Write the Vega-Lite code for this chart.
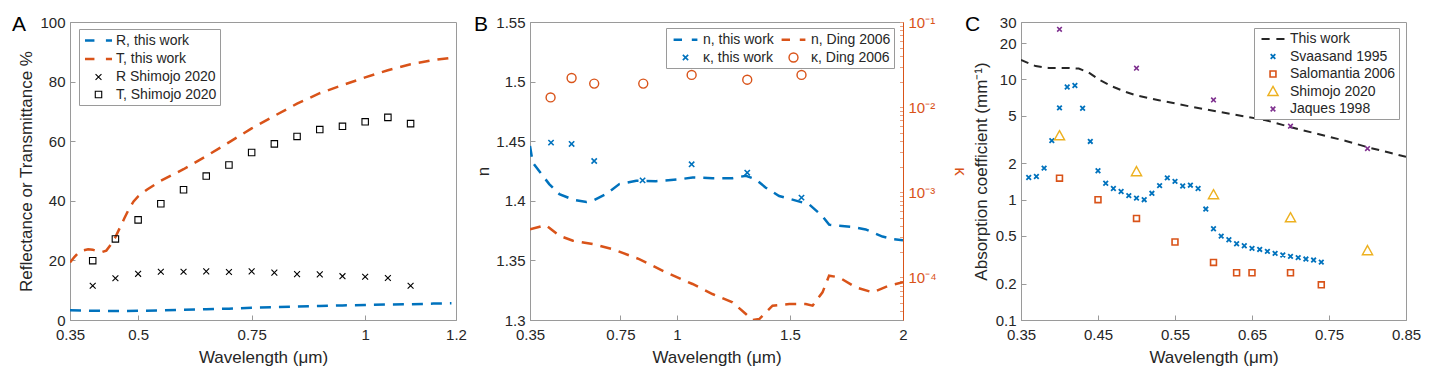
{
"$schema": "https://vega.github.io/schema/vega-lite/v6.json",
"padding": {"left": 11, "top": 13, "right": 5, "bottom": 5},
"background": "white",
"bounds": "flush",
"spacing": 74,
"resolve": {"scale": {"color": "independent", "shape": "independent", "strokeWidth": "independent"}, "legend": {"color": "independent", "shape": "independent", "strokeWidth": "independent"}},
"config": {
  "font": "Liberation Sans",
  "view": {"stroke": "#9a9a9a", "strokeWidth": 1},
  "axis": {"labelFont": "Liberation Sans", "labelFontSize": 15, "labelColor": "#262626", "titleFont": "Liberation Sans", "titleFontSize": 17, "titleFontWeight": "normal", "titleColor": "#262626", "domainColor": "#9a9a9a", "tickColor": "#9a9a9a", "tickSize": -5, "labelPadding": 10, "grid": false, "labelFlush": false, "labelOverlap": false},
  "axisX": {"labelPadding": 12.5},
  "legend": {"orient": "none", "title": null, "strokeColor": "#9a9a9a", "fillColor": "white", "padding": 3, "labelFont": "Liberation Sans", "labelFontSize": 14, "labelColor": "#262626", "symbolSize": 196, "rowPadding": 2.5, "symbolOffset": 8, "labelOffset": 9},
  "title": {"font": "Liberation Sans", "fontSize": 21, "fontWeight": "normal", "anchor": "start", "frame": "group", "baseline": "alphabetic", "offset": 0, "color": "#000"}
},
"hconcat": [
{
  "width": 386, "height": 298,
  "title": {"text": "A", "dx": -58, "dy": 24},
  "layer": [
    {
      "data": {"values": [
        {"series": "R, this work", "wl": 0.35, "v": 3.3}, {"series": "R, this work", "wl": 0.4, "v": 3.1}, {"series": "R, this work", "wl": 0.45, "v": 3.0}, {"series": "R, this work", "wl": 0.5, "v": 3.1}, {"series": "R, this work", "wl": 0.55, "v": 3.2}, {"series": "R, this work", "wl": 0.6, "v": 3.4}, {"series": "R, this work", "wl": 0.65, "v": 3.6}, {"series": "R, this work", "wl": 0.7, "v": 3.8}, {"series": "R, this work", "wl": 0.75, "v": 4.1}, {"series": "R, this work", "wl": 0.8, "v": 4.3}, {"series": "R, this work", "wl": 0.85, "v": 4.5}, {"series": "R, this work", "wl": 0.9, "v": 4.7}, {"series": "R, this work", "wl": 0.95, "v": 4.9}, {"series": "R, this work", "wl": 1.0, "v": 5.0}, {"series": "R, this work", "wl": 1.05, "v": 5.2}, {"series": "R, this work", "wl": 1.1, "v": 5.3}, {"series": "R, this work", "wl": 1.15, "v": 5.5}, {"series": "R, this work", "wl": 1.19, "v": 5.6},
        {"series": "T, this work", "wl": 0.35, "v": 19.3}, {"series": "T, this work", "wl": 0.36, "v": 21.2}, {"series": "T, this work", "wl": 0.37, "v": 22.8}, {"series": "T, this work", "wl": 0.38, "v": 23.4}, {"series": "T, this work", "wl": 0.39, "v": 23.7}, {"series": "T, this work", "wl": 0.4, "v": 23.6}, {"series": "T, this work", "wl": 0.41, "v": 23.1}, {"series": "T, this work", "wl": 0.42, "v": 22.8}, {"series": "T, this work", "wl": 0.43, "v": 23.3}, {"series": "T, this work", "wl": 0.44, "v": 25.3}, {"series": "T, this work", "wl": 0.45, "v": 27.8}, {"series": "T, this work", "wl": 0.46, "v": 31.0}, {"series": "T, this work", "wl": 0.47, "v": 34.2}, {"series": "T, this work", "wl": 0.48, "v": 37.3}, {"series": "T, this work", "wl": 0.49, "v": 39.8}, {"series": "T, this work", "wl": 0.5, "v": 41.5}, {"series": "T, this work", "wl": 0.52, "v": 43.8}, {"series": "T, this work", "wl": 0.55, "v": 46.7}, {"series": "T, this work", "wl": 0.6, "v": 50.6}, {"series": "T, this work", "wl": 0.65, "v": 55.0}, {"series": "T, this work", "wl": 0.7, "v": 59.6}, {"series": "T, this work", "wl": 0.75, "v": 64.3}, {"series": "T, this work", "wl": 0.8, "v": 68.5}, {"series": "T, this work", "wl": 0.85, "v": 72.6}, {"series": "T, this work", "wl": 0.9, "v": 76.1}, {"series": "T, this work", "wl": 0.95, "v": 78.8}, {"series": "T, this work", "wl": 1.0, "v": 81.4}, {"series": "T, this work", "wl": 1.05, "v": 83.8}, {"series": "T, this work", "wl": 1.1, "v": 85.8}, {"series": "T, this work", "wl": 1.15, "v": 87.2}, {"series": "T, this work", "wl": 1.19, "v": 88.0}
      ]},
      "mark": {"type": "line", "strokeWidth": 2.5, "strokeDash": [11, 8], "clip": true},
      "encoding": {
        "x": {"field": "wl", "type": "quantitative", "scale": {"domain": [0.35, 1.2], "nice": false, "zero": false}, "axis": {"values": [0.35, 0.5, 0.75, 1, 1.2], "format": "~g", "title": "Wavelength (μm)", "titleY": 37, "titleBaseline": "middle"}},
        "y": {"field": "v", "type": "quantitative", "scale": {"domain": [0, 100], "nice": false}, "axis": {"values": [0, 20, 40, 60, 80, 100], "title": "Reflectance or Transmittance %", "titleX": -44, "titleBaseline": "middle"}},
        "color": {"field": "series", "type": "nominal", "scale": {"domain": ["R, this work", "T, this work", "R Shimojo 2020", "T, Shimojo 2020"], "range": ["#0072BD", "#D95319", "#000000", "#000000"]}},
        "detail": {"field": "series"}
      }
    },
    {
      "data": {"values": [
        {"series": "R Shimojo 2020", "wl": 0.4, "v": 11.5}, {"series": "R Shimojo 2020", "wl": 0.45, "v": 14.0}, {"series": "R Shimojo 2020", "wl": 0.5, "v": 15.5}, {"series": "R Shimojo 2020", "wl": 0.55, "v": 16.2}, {"series": "R Shimojo 2020", "wl": 0.6, "v": 16.2}, {"series": "R Shimojo 2020", "wl": 0.65, "v": 16.3}, {"series": "R Shimojo 2020", "wl": 0.7, "v": 16.1}, {"series": "R Shimojo 2020", "wl": 0.75, "v": 16.3}, {"series": "R Shimojo 2020", "wl": 0.8, "v": 15.9}, {"series": "R Shimojo 2020", "wl": 0.85, "v": 15.4}, {"series": "R Shimojo 2020", "wl": 0.9, "v": 15.3}, {"series": "R Shimojo 2020", "wl": 0.95, "v": 14.7}, {"series": "R Shimojo 2020", "wl": 1.0, "v": 14.5}, {"series": "R Shimojo 2020", "wl": 1.05, "v": 14.1}, {"series": "R Shimojo 2020", "wl": 1.1, "v": 11.5},
        {"series": "T, Shimojo 2020", "wl": 0.4, "v": 19.9}, {"series": "T, Shimojo 2020", "wl": 0.45, "v": 27.2}, {"series": "T, Shimojo 2020", "wl": 0.5, "v": 33.6}, {"series": "T, Shimojo 2020", "wl": 0.55, "v": 39.0}, {"series": "T, Shimojo 2020", "wl": 0.6, "v": 43.7}, {"series": "T, Shimojo 2020", "wl": 0.65, "v": 48.3}, {"series": "T, Shimojo 2020", "wl": 0.7, "v": 52.0}, {"series": "T, Shimojo 2020", "wl": 0.75, "v": 56.2}, {"series": "T, Shimojo 2020", "wl": 0.8, "v": 59.1}, {"series": "T, Shimojo 2020", "wl": 0.85, "v": 61.6}, {"series": "T, Shimojo 2020", "wl": 0.9, "v": 63.9}, {"series": "T, Shimojo 2020", "wl": 0.95, "v": 65.0}, {"series": "T, Shimojo 2020", "wl": 1.0, "v": 66.5}, {"series": "T, Shimojo 2020", "wl": 1.05, "v": 68.0}, {"series": "T, Shimojo 2020", "wl": 1.1, "v": 65.9}
      ]},
      "mark": {"type": "point", "filled": false, "size": 196, "opacity": 1, "clip": true},
      "encoding": {
        "x": {"field": "wl", "type": "quantitative"},
        "y": {"field": "v", "type": "quantitative"},
        "color": {"field": "series", "type": "nominal", "legend": {"legendX": 9, "legendY": 7}},
        "shape": {"field": "series", "type": "nominal", "scale": {"domain": ["R, this work", "T, this work", "R Shimojo 2020", "T, Shimojo 2020"], "range": ["M-1.93,0H-0.58M1.06,0H1.93", "M-1.93,0H-0.58M1.06,0H1.93", "M-0.42,-0.42L0.42,0.42M-0.42,0.42L0.42,-0.42", "M-0.46,-0.46H0.46V0.46H-0.46Z"]}},
        "strokeWidth": {"field": "series", "type": "nominal", "scale": {"type": "ordinal", "domain": ["R, this work", "T, this work", "R Shimojo 2020", "T, Shimojo 2020"], "range": [2.5, 2.5, 1.1, 1.1]}}
      }
    }
  ]
},
{
  "bounds": "flush",
  "spacing": 118,
  "resolve": {"scale": {"color": "independent", "shape": "independent", "strokeWidth": "independent"}, "legend": {"color": "independent", "shape": "independent", "strokeWidth": "independent"}},
  "hconcat": [
  {
    "width": 373, "height": 298,
    "title": {"text": "B", "dx": -56, "dy": 24},
    "layer": [
      {
        "data": {"values": [
          {"series": "n, this work", "wl": 0.35, "n": 1.446}, {"series": "n, this work", "wl": 0.362, "n": 1.432}, {"series": "n, this work", "wl": 0.435, "n": 1.414}, {"series": "n, this work", "wl": 0.48, "n": 1.4056}, {"series": "n, this work", "wl": 0.54, "n": 1.401}, {"series": "n, this work", "wl": 0.6, "n": 1.399}, {"series": "n, this work", "wl": 0.627, "n": 1.4}, {"series": "n, this work", "wl": 0.686, "n": 1.4056}, {"series": "n, this work", "wl": 0.745, "n": 1.414}, {"series": "n, this work", "wl": 0.82, "n": 1.4168}, {"series": "n, this work", "wl": 0.907, "n": 1.4165}, {"series": "n, this work", "wl": 1.01, "n": 1.418}, {"series": "n, this work", "wl": 1.07, "n": 1.4196}, {"series": "n, this work", "wl": 1.157, "n": 1.419}, {"series": "n, this work", "wl": 1.246, "n": 1.419}, {"series": "n, this work", "wl": 1.305, "n": 1.421}, {"series": "n, this work", "wl": 1.349, "n": 1.418}, {"series": "n, this work", "wl": 1.393, "n": 1.411}, {"series": "n, this work", "wl": 1.452, "n": 1.404}, {"series": "n, this work", "wl": 1.511, "n": 1.401}, {"series": "n, this work", "wl": 1.585, "n": 1.397}, {"series": "n, this work", "wl": 1.644, "n": 1.387}, {"series": "n, this work", "wl": 1.673, "n": 1.38}, {"series": "n, this work", "wl": 1.717, "n": 1.379}, {"series": "n, this work", "wl": 1.776, "n": 1.378}, {"series": "n, this work", "wl": 1.835, "n": 1.376}, {"series": "n, this work", "wl": 1.909, "n": 1.37}, {"series": "n, this work", "wl": 1.953, "n": 1.368}, {"series": "n, this work", "wl": 2.0, "n": 1.367},
          {"series": "n, Ding 2006", "wl": 0.35, "n": 1.376}, {"series": "n, Ding 2006", "wl": 0.42, "n": 1.3796}, {"series": "n, Ding 2006", "wl": 0.48, "n": 1.3707}, {"series": "n, Ding 2006", "wl": 0.54, "n": 1.3665}, {"series": "n, Ding 2006", "wl": 0.627, "n": 1.3637}, {"series": "n, Ding 2006", "wl": 0.715, "n": 1.3595}, {"series": "n, Ding 2006", "wl": 0.833, "n": 1.3511}, {"series": "n, Ding 2006", "wl": 0.951, "n": 1.34}, {"series": "n, Ding 2006", "wl": 1.069, "n": 1.3302}, {"series": "n, Ding 2006", "wl": 1.157, "n": 1.3218}, {"series": "n, Ding 2006", "wl": 1.246, "n": 1.3148}, {"series": "n, Ding 2006", "wl": 1.305, "n": 1.305}, {"series": "n, Ding 2006", "wl": 1.334, "n": 1.3}, {"series": "n, Ding 2006", "wl": 1.364, "n": 1.3008}, {"series": "n, Ding 2006", "wl": 1.423, "n": 1.312}, {"series": "n, Ding 2006", "wl": 1.497, "n": 1.3134}, {"series": "n, Ding 2006", "wl": 1.57, "n": 1.3134}, {"series": "n, Ding 2006", "wl": 1.6, "n": 1.312}, {"series": "n, Ding 2006", "wl": 1.644, "n": 1.3232}, {"series": "n, Ding 2006", "wl": 1.673, "n": 1.3372}, {"series": "n, Ding 2006", "wl": 1.717, "n": 1.3358}, {"series": "n, Ding 2006", "wl": 1.791, "n": 1.3274}, {"series": "n, Ding 2006", "wl": 1.865, "n": 1.3232}, {"series": "n, Ding 2006", "wl": 1.938, "n": 1.3288}, {"series": "n, Ding 2006", "wl": 2.0, "n": 1.3316}
        ]},
        "mark": {"type": "line", "strokeWidth": 2.5, "strokeDash": [11, 8], "clip": true},
        "encoding": {
          "x": {"field": "wl", "type": "quantitative", "scale": {"domain": [0.35, 2], "nice": false, "zero": false}, "axis": {"values": [0.35, 0.75, 1, 1.5, 2], "format": "~g", "title": "Wavelength (μm)", "titleY": 37, "titleBaseline": "middle"}},
          "y": {"field": "n", "type": "quantitative", "scale": {"domain": [1.3, 1.55], "nice": false, "zero": false}, "axis": {"values": [1.3, 1.35, 1.4, 1.45, 1.5, 1.55], "format": "~g", "title": "n", "titleX": -47, "titleBaseline": "middle"}},
          "color": {"field": "series", "type": "nominal", "scale": {"domain": ["n, this work", "κ, this work", "n, Ding 2006", "κ, Ding 2006"], "range": ["#0072BD", "#0072BD", "#D95319", "#D95319"]}},
          "detail": {"field": "series"}
        }
      },
      {
        "data": {"values": [
          {"series": "κ, this work", "wl": 0.443, "kappa": 0.00383}, {"series": "κ, this work", "wl": 0.534, "kappa": 0.0037}, {"series": "κ, this work", "wl": 0.634, "kappa": 0.00233}, {"series": "κ, this work", "wl": 0.848, "kappa": 0.00138}, {"series": "κ, this work", "wl": 1.065, "kappa": 0.00213}, {"series": "κ, this work", "wl": 1.311, "kappa": 0.0017}, {"series": "κ, this work", "wl": 1.551, "kappa": 0.000865},
          {"series": "κ, Ding 2006", "wl": 0.441, "kappa": 0.013}, {"series": "κ, Ding 2006", "wl": 0.534, "kappa": 0.022}, {"series": "κ, Ding 2006", "wl": 0.634, "kappa": 0.0189}, {"series": "κ, Ding 2006", "wl": 0.851, "kappa": 0.0189}, {"series": "κ, Ding 2006", "wl": 1.065, "kappa": 0.0239}, {"series": "κ, Ding 2006", "wl": 1.311, "kappa": 0.021}, {"series": "κ, Ding 2006", "wl": 1.551, "kappa": 0.0239}
        ]},
        "mark": {"type": "point", "filled": false, "size": 196, "opacity": 1, "clip": true},
        "encoding": {
          "x": {"field": "wl", "type": "quantitative"},
          "y": {"field": "kappa", "type": "quantitative", "scale": {"type": "log", "domain": [0.000031623, 0.1], "nice": false}, "axis": {"orient": "right", "tickSize": -3.5, "labelPadding": 8.5, "values": [0.00004, 0.00005, 0.00006, 0.00007, 0.00008, 0.00009, 0.0001, 0.0002, 0.0003, 0.0004, 0.0005, 0.0006, 0.0007, 0.0008, 0.0009, 0.001, 0.002, 0.003, 0.004, 0.005, 0.006, 0.007, 0.008, 0.009, 0.01, 0.02, 0.03, 0.04, 0.05, 0.06, 0.07, 0.08, 0.09, 0.1], "labelExpr": "datum.value == 0.1 ? '10⁻¹' : datum.value == 0.01 ? '10⁻²' : datum.value == 0.001 ? '10⁻³' : datum.value == 0.0001 ? '10⁻⁴' : ''", "title": "κ", "titleX": 56, "titleBaseline": "middle", "titleColor": "#D95319", "labelColor": "#D95319", "domainColor": "#D95319", "tickColor": "#E8A080"}},
          "color": {"field": "series", "type": "nominal", "legend": {"legendX": 136, "legendY": 6, "columns": 2, "columnPadding": 2}},
          "shape": {"field": "series", "type": "nominal", "scale": {"domain": ["n, this work", "κ, this work", "n, Ding 2006", "κ, Ding 2006"], "range": ["M-1.7,0H-0.5M0.9,0H1.7", "M-0.38,-0.38L0.38,0.38M-0.38,0.38L0.38,-0.38", "M-1.7,0H-0.5M0.9,0H1.7", "M0.64,0A0.64,0.64,0,1,1,-0.64,0A0.64,0.64,0,1,1,0.64,0Z"]}},
          "strokeWidth": {"field": "series", "type": "nominal", "scale": {"type": "ordinal", "domain": ["n, this work", "κ, this work", "n, Ding 2006", "κ, Ding 2006"], "range": [2.5, 1.6, 2.5, 1.4]}}
        }
      }
    ],
    "resolve": {"scale": {"y": "independent"}}
  },
  {
    "width": 385, "height": 298,
    "title": {"text": "C", "dx": -56, "dy": 24},
    "layer": [
      {
        "data": {"values": [
          {"series": "This work", "wl": 0.35, "mua": 14.5}, {"series": "This work", "wl": 0.369, "mua": 12.9}, {"series": "This work", "wl": 0.386, "mua": 12.45}, {"series": "This work", "wl": 0.412, "mua": 12.45}, {"series": "This work", "wl": 0.425, "mua": 12.3}, {"series": "This work", "wl": 0.438, "mua": 11.4}, {"series": "This work", "wl": 0.451, "mua": 10.0}, {"series": "This work", "wl": 0.469, "mua": 8.7}, {"series": "This work", "wl": 0.486, "mua": 7.87}, {"series": "This work", "wl": 0.499, "mua": 7.38}, {"series": "This work", "wl": 0.529, "mua": 6.71}, {"series": "This work", "wl": 0.551, "mua": 6.3}, {"series": "This work", "wl": 0.572, "mua": 5.91}, {"series": "This work", "wl": 0.603, "mua": 5.44}, {"series": "This work", "wl": 0.637, "mua": 4.97}, {"series": "This work", "wl": 0.668, "mua": 4.58}, {"series": "This work", "wl": 0.702, "mua": 3.98}, {"series": "This work", "wl": 0.737, "mua": 3.5}, {"series": "This work", "wl": 0.772, "mua": 3.08}, {"series": "This work", "wl": 0.802, "mua": 2.71}, {"series": "This work", "wl": 0.828, "mua": 2.47}, {"series": "This work", "wl": 0.85, "mua": 2.27}
        ]},
        "mark": {"type": "line", "strokeWidth": 2, "strokeDash": [8, 6], "clip": true},
        "encoding": {
          "x": {"field": "wl", "type": "quantitative", "scale": {"domain": [0.35, 0.85], "nice": false, "zero": false}, "axis": {"values": [0.35, 0.45, 0.55, 0.65, 0.75, 0.85], "format": "~g", "title": "Wavelength (μm)", "titleY": 37, "titleBaseline": "middle"}},
          "y": {"field": "mua", "type": "quantitative", "scale": {"type": "log", "domain": [0.1, 30], "nice": false}, "axis": {"values": [0.1, 0.2, 0.5, 1, 2, 5, 10, 20, 30], "format": "~g", "title": "Absorption coefficient (mm⁻¹)", "titleX": -40, "titleBaseline": "middle"}},
          "color": {"field": "series", "type": "nominal", "scale": {"domain": ["This work", "Svaasand 1995", "Salomantia 2006", "Shimojo 2020", "Jaques 1998"], "range": ["#262626", "#0072BD", "#D95319", "#EDB120", "#7E2F8E"]}},
          "detail": {"field": "series"}
        }
      },
      {
        "data": {"values": [
          {"series": "Svaasand 1995", "wl": 0.36, "mua": 1.53}, {"series": "Svaasand 1995", "wl": 0.37, "mua": 1.56}, {"series": "Svaasand 1995", "wl": 0.38, "mua": 1.83}, {"series": "Svaasand 1995", "wl": 0.39, "mua": 3.1}, {"series": "Svaasand 1995", "wl": 0.4, "mua": 5.8}, {"series": "Svaasand 1995", "wl": 0.41, "mua": 8.65}, {"series": "Svaasand 1995", "wl": 0.42, "mua": 8.89}, {"series": "Svaasand 1995", "wl": 0.43, "mua": 5.76}, {"series": "Svaasand 1995", "wl": 0.44, "mua": 3.05}, {"series": "Svaasand 1995", "wl": 0.45, "mua": 1.74}, {"series": "Svaasand 1995", "wl": 0.46, "mua": 1.37}, {"series": "Svaasand 1995", "wl": 0.47, "mua": 1.24}, {"series": "Svaasand 1995", "wl": 0.48, "mua": 1.17}, {"series": "Svaasand 1995", "wl": 0.49, "mua": 1.08}, {"series": "Svaasand 1995", "wl": 0.5, "mua": 1.03}, {"series": "Svaasand 1995", "wl": 0.51, "mua": 1.0}, {"series": "Svaasand 1995", "wl": 0.52, "mua": 1.13}, {"series": "Svaasand 1995", "wl": 0.53, "mua": 1.31}, {"series": "Svaasand 1995", "wl": 0.54, "mua": 1.52}, {"series": "Svaasand 1995", "wl": 0.55, "mua": 1.42}, {"series": "Svaasand 1995", "wl": 0.56, "mua": 1.3}, {"series": "Svaasand 1995", "wl": 0.57, "mua": 1.32}, {"series": "Svaasand 1995", "wl": 0.58, "mua": 1.24}, {"series": "Svaasand 1995", "wl": 0.59, "mua": 0.836}, {"series": "Svaasand 1995", "wl": 0.6, "mua": 0.573}, {"series": "Svaasand 1995", "wl": 0.61, "mua": 0.498}, {"series": "Svaasand 1995", "wl": 0.62, "mua": 0.465}, {"series": "Svaasand 1995", "wl": 0.63, "mua": 0.43}, {"series": "Svaasand 1995", "wl": 0.64, "mua": 0.414}, {"series": "Svaasand 1995", "wl": 0.65, "mua": 0.394}, {"series": "Svaasand 1995", "wl": 0.66, "mua": 0.386}, {"series": "Svaasand 1995", "wl": 0.67, "mua": 0.372}, {"series": "Svaasand 1995", "wl": 0.68, "mua": 0.358}, {"series": "Svaasand 1995", "wl": 0.69, "mua": 0.347}, {"series": "Svaasand 1995", "wl": 0.7, "mua": 0.338}, {"series": "Svaasand 1995", "wl": 0.71, "mua": 0.33}, {"series": "Svaasand 1995", "wl": 0.72, "mua": 0.321}, {"series": "Svaasand 1995", "wl": 0.73, "mua": 0.315}, {"series": "Svaasand 1995", "wl": 0.74, "mua": 0.303},
          {"series": "Salomantia 2006", "wl": 0.4, "mua": 1.51}, {"series": "Salomantia 2006", "wl": 0.45, "mua": 1.0}, {"series": "Salomantia 2006", "wl": 0.5, "mua": 0.698}, {"series": "Salomantia 2006", "wl": 0.55, "mua": 0.445}, {"series": "Salomantia 2006", "wl": 0.6, "mua": 0.301}, {"series": "Salomantia 2006", "wl": 0.63, "mua": 0.247}, {"series": "Salomantia 2006", "wl": 0.65, "mua": 0.247}, {"series": "Salomantia 2006", "wl": 0.7, "mua": 0.247}, {"series": "Salomantia 2006", "wl": 0.74, "mua": 0.196},
          {"series": "Shimojo 2020", "wl": 0.4, "mua": 3.4}, {"series": "Shimojo 2020", "wl": 0.5, "mua": 1.71}, {"series": "Shimojo 2020", "wl": 0.6, "mua": 1.1}, {"series": "Shimojo 2020", "wl": 0.7, "mua": 0.708}, {"series": "Shimojo 2020", "wl": 0.8, "mua": 0.377},
          {"series": "Jaques 1998", "wl": 0.4, "mua": 26.1}, {"series": "Jaques 1998", "wl": 0.5, "mua": 12.4}, {"series": "Jaques 1998", "wl": 0.6, "mua": 6.75}, {"series": "Jaques 1998", "wl": 0.7, "mua": 4.08}, {"series": "Jaques 1998", "wl": 0.8, "mua": 2.66}
        ]},
        "mark": {"type": "point", "filled": false, "size": 196, "opacity": 1, "clip": true},
        "encoding": {
          "x": {"field": "wl", "type": "quantitative"},
          "y": {"field": "mua", "type": "quantitative"},
          "color": {"field": "series", "type": "nominal", "legend": {"legendX": 233, "legendY": 6}},
          "shape": {"field": "series", "type": "nominal", "scale": {"domain": ["This work", "Svaasand 1995", "Salomantia 2006", "Shimojo 2020", "Jaques 1998"], "range": ["M-1.64,0H-0.48M0.48,0H1.64", "M-0.33,-0.33L0.33,0.33M-0.33,0.33L0.33,-0.33", "M-0.42,-0.42H0.42V0.42H-0.42Z", "M0,-0.73L0.73,0.58H-0.73Z", "M-0.33,-0.33L0.33,0.33M-0.33,0.33L0.33,-0.33"]}},
          "strokeWidth": {"field": "series", "type": "nominal", "scale": {"type": "ordinal", "domain": ["This work", "Svaasand 1995", "Salomantia 2006", "Shimojo 2020", "Jaques 1998"], "range": [2, 1.8, 1.6, 1.4, 1.6]}}
        }
      }
    ]
  }
  ]
}
]
}
